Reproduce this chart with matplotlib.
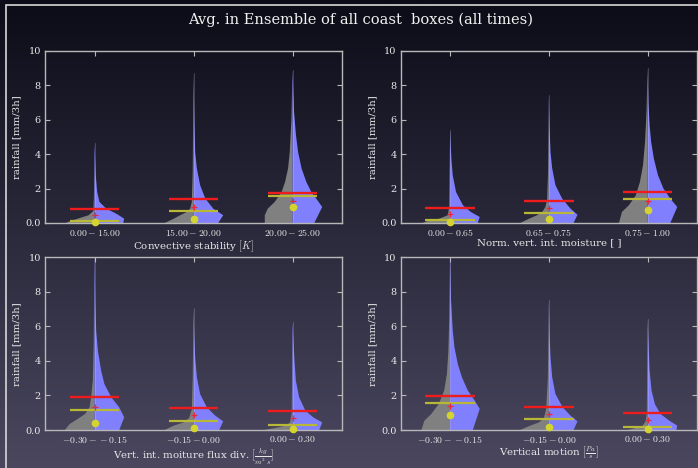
import numpy as np
import matplotlib
matplotlib.use("Agg")
import matplotlib.pyplot as plt
from matplotlib.patches import Polygon, Rectangle

plt.rcParams['font.family'] = ['DejaVu Serif']
plt.rcParams['mathtext.fontset'] = 'cm'

# ---------------- data ----------------
title = "Avg. in Ensemble of all coast  boxes (all times)"

xlabels = [r"Convective stability $[K]$",
           r"Norm. vert. int. moisture [ ]",
           r"Vert. int. moiture flux div. $[\frac{kg}{m^2\ s}]$",
           r"Vertical motion $[\frac{Pa}{s}]$"]

ticklabels = [[r"$0.00-15.00$", r"$15.00-20.00$", r"$20.00-25.00$"],
              [r"$0.00-0.65$", r"$0.65-0.75$", r"$0.75-1.00$"],
              [r"$-0.30--0.15$", r"$-0.15-0.00$", r"$0.00-0.30$"],
              [r"$-0.30--0.15$", r"$-0.15-0.00$", r"$0.00-0.30$"]]

red_vals    = [[0.80, 1.40, 1.76], [0.89, 1.28, 1.78], [1.93, 1.27, 1.10], [1.95, 1.35, 0.97]]
yellow_vals = [[0.12, 0.72, 1.57], [0.15, 0.58, 1.41], [1.14, 0.50, 0.29], [1.56, 0.62, 0.17]]
plus_vals   = [[0.46, 0.95, 1.28], [0.52, 0.85, 1.30], [1.35, 0.87, 0.68], [1.39, 0.91, 0.58]]
circle_vals = [[0.05, 0.23, 0.91], [0.05, 0.23, 0.78], [0.39, 0.12, 0.05], [0.85, 0.16, 0.05]]

# violin half profiles: (rain levels, half widths)
gray_profiles = [
    [([0, 0.1, 0.25, 0.45, 0.7, 1.5, 4.63], [0.29, 0.25, 0.17, 0.06, 0.012, 0.006, 0]),
     ([0, 0.25, 0.45, 0.64, 0.83, 1.22, 3.0, 8.7], [0.29, 0.2, 0.135, 0.067, 0.034, 0.017, 0.008, 0]),
     ([0, 0.45, 0.83, 1.22, 1.8, 2.38, 3.16, 4.1, 6.0, 8.9], [0.28, 0.28, 0.25, 0.18, 0.11, 0.075, 0.045, 0.028, 0.011, 0])],
    [([0, 0.15, 0.25, 0.45, 1.0, 5.4], [0.28, 0.21, 0.11, 0.023, 0.008, 0]),
     ([0, 0.25, 0.45, 0.64, 0.93, 1.41, 3.0, 7.4], [0.29, 0.2, 0.12, 0.067, 0.034, 0.017, 0.008, 0]),
     ([0, 0.64, 1.03, 1.6, 2.38, 3.35, 4.7, 6.5, 9.0], [0.29, 0.26, 0.19, 0.12, 0.078, 0.047, 0.026, 0.011, 0])],
    [([0, 0.35, 0.64, 0.93, 1.31, 1.89, 2.86, 5.0, 10.5], [0.30, 0.25, 0.17, 0.094, 0.05, 0.034, 0.017, 0.008, 0]),
     ([0, 0.25, 0.44, 0.69, 1.2, 3.0, 7.05], [0.29, 0.2, 0.1, 0.044, 0.017, 0.008, 0]),
     ([0, 0.12, 0.25, 0.44, 1.0, 6.27], [0.29, 0.17, 0.07, 0.024, 0.008, 0])],
    [([0, 0.54, 0.93, 1.5, 2.28, 3.24, 4.5, 6.5, 10.5], [0.29, 0.26, 0.19, 0.115, 0.06, 0.032, 0.018, 0.008, 0]),
     ([0, 0.25, 0.44, 0.69, 1.2, 3.0, 7.5], [0.29, 0.19, 0.10, 0.05, 0.027, 0.01, 0]),
     ([0, 0.15, 0.25, 0.5, 1.0, 6.45], [0.2, 0.1, 0.05, 0.02, 0.008, 0])],
]
blue_profiles = [
    [([0, 0.25, 0.54, 0.83, 1.22, 1.8, 2.77, 3.8, 4.63], [0.29, 0.30, 0.22, 0.12, 0.05, 0.027, 0.013, 0.006, 0]),
     ([0, 0.45, 0.83, 1.41, 2.19, 3.16, 4.1, 5.7, 8.7], [0.25, 0.30, 0.20, 0.12, 0.067, 0.034, 0.017, 0.01, 0]),
     ([0, 0.93, 1.41, 1.8, 2.38, 3.16, 4.1, 5.1, 6.5, 8.9], [0.22, 0.30, 0.24, 0.19, 0.14, 0.092, 0.057, 0.035, 0.015, 0])],
    [([0, 0.35, 0.64, 1.03, 1.8, 2.77, 3.74, 5.4], [0.28, 0.30, 0.21, 0.13, 0.06, 0.027, 0.013, 0]),
     ([0, 0.48, 0.83, 1.41, 2.19, 3.16, 4.1, 5.5, 7.4], [0.25, 0.29, 0.22, 0.135, 0.067, 0.034, 0.017, 0.008, 0]),
     ([0, 0.93, 1.41, 2.0, 2.77, 3.74, 4.7, 5.7, 7.0, 9.0], [0.23, 0.30, 0.23, 0.16, 0.105, 0.063, 0.036, 0.02, 0.008, 0])],
    [([0, 0.73, 1.31, 1.89, 2.66, 3.44, 4.6, 5.75, 7.5, 10.5], [0.25, 0.30, 0.25, 0.17, 0.10, 0.067, 0.034, 0.017, 0.008, 0]),
     ([0, 0.5, 0.83, 1.31, 2.08, 3.05, 4.2, 5.5, 7.05], [0.26, 0.30, 0.22, 0.135, 0.067, 0.034, 0.017, 0.008, 0]),
     ([0, 0.44, 0.73, 1.12, 1.89, 2.86, 4.0, 6.27], [0.27, 0.30, 0.21, 0.13, 0.067, 0.034, 0.02, 0])],
    [([0, 1.22, 1.7, 2.28, 3.05, 3.82, 4.8, 5.75, 7.5, 10.5], [0.23, 0.30, 0.25, 0.18, 0.12, 0.078, 0.044, 0.027, 0.01, 0]),
     ([0, 0.5, 0.83, 1.31, 2.08, 3.05, 4.2, 5.5, 7.5], [0.25, 0.29, 0.22, 0.14, 0.067, 0.034, 0.017, 0.008, 0]),
     ([0, 0.25, 0.54, 0.93, 1.5, 2.28, 3.44, 6.45], [0.29, 0.30, 0.22, 0.13, 0.074, 0.04, 0.02, 0])],
]

yticks = [0, 2, 4, 6, 8, 10]
yticklabels = ["0.0", "2", "4", "6", "8", "10"]

# ---------------- style ----------------
W, H = 698, 468
fig = plt.figure(figsize=(W / 100, H / 100), dpi=100)

# background gradient
bg = fig.add_axes([0, 0, 1, 1], zorder=-10)
top_c = np.array([12, 12, 24]) / 255
bot_c = np.array([74, 71, 95]) / 255
t = np.linspace(0, 1, 256)[:, None]
grad = top_c[None, :] * (1 - t) + bot_c[None, :] * t
bg.imshow(grad[:, None, :], aspect='auto', extent=[0, 1, 0, 1], origin='upper')
bg.set_axis_off()

fig.patches.append(Rectangle((5.5 / W, -0.1), 1.2, 1.1 - 5.5 / H, transform=fig.transFigure,
                             fill=False, edgecolor='#d8d8d8', linewidth=1.2, zorder=5))

fig.text(361 / W, 1 - 20 / H, title, ha='center', va='center', fontsize=10.5, color='#f0f0f0')

txt_c = '#e8e8e8'
spine_c = '#b8b8b8'
pos = [[45, 342, 50.7, 223], [400.7, 697, 50.7, 223],
       [45, 342, 257.3, 430], [400.7, 697, 257.3, 430]]

for k in range(4):
    l, r, tp, bt = pos[k]
    ax = fig.add_axes([l / W, 1 - bt / H, (r - l) / W, (bt - tp) / H])
    ax.set_facecolor('none')
    ax.set_xlim(-0.5, 2.5)
    ax.set_ylim(0, 10)
    for i in range(3):
        gy, gw = gray_profiles[k][i]
        by, bw = blue_profiles[k][i]
        gy = np.array(gy); gw = np.array(gw)
        by = np.array(by); bw = np.array(bw)
        gpoly = np.column_stack([np.r_[i - gw, i, i], np.r_[gy, gy[-1], 0]])
        bpoly = np.column_stack([np.r_[i + bw, i, i], np.r_[by, by[-1], 0]])
        ax.add_patch(Polygon(gpoly, closed=True, facecolor='#808080', edgecolor='none', zorder=2))
        ax.add_patch(Polygon(bpoly, closed=True, facecolor='#8080ff', edgecolor='none', zorder=2))
        ax.plot([i, i], [0, max(gy[-1], by[-1])], color='#d0d0e8', lw=0.5, alpha=0.35, zorder=2.5)
        ax.plot([i - 0.25, i + 0.25], [red_vals[k][i]] * 2, color='#ee1c1c', lw=1.7, zorder=3,
                solid_capstyle='butt')
        ax.plot([i - 0.25, i + 0.25], [yellow_vals[k][i]] * 2, color='#b8b836', lw=1.6, zorder=3,
                solid_capstyle='butt')
        ax.plot([i], [plus_vals[k][i]], marker='+', color='#e8283c', ms=4.5, mew=0.9, zorder=4)
        ax.plot([i], [circle_vals[k][i]], marker='o', color='#d4d430', ms=4.5, mec='#d4d430', zorder=4,
                clip_on=False)
    ax.set_xticks([0, 1, 2])
    ax.set_xticklabels(ticklabels[k])
    ax.set_yticks(yticks)
    ax.set_yticklabels(yticklabels)
    ax.tick_params(direction='in', top=True, right=True, length=3.5, width=0.8,
                   color=spine_c, labelcolor=txt_c, labelsize=7, pad=3)
    for s in ax.spines.values():
        s.set_color(spine_c)
        s.set_linewidth(1.0)
    ax.set_xlabel(xlabels[k], color=txt_c, fontsize=7.4, labelpad=0)
    ax.set_ylabel("rainfall [mm/3h]", color=txt_c, fontsize=7.3, labelpad=3)

fig.savefig("out.png", dpi=100)
